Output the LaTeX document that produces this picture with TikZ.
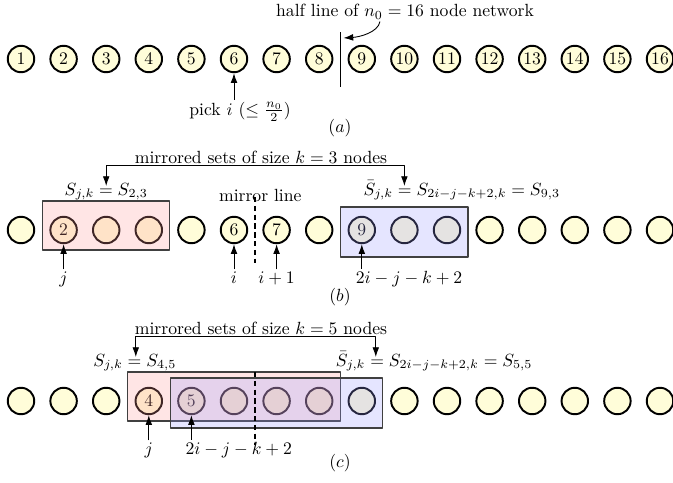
\documentclass[tikz,border=0pt]{standalone}
\usetikzlibrary{arrows.meta,calc}
\tikzset{
  nd/.style={circle,draw,line width=1.1pt,fill=yellow!15,minimum size=15pt,inner sep=0pt},
  setj/.style={draw=black!75,line width=0.6pt,fill=red!40,fill opacity=0.25},
  setm/.style={draw=black!75,line width=0.6pt,fill=blue!40,fill opacity=0.25},
  lbl/.style={inner sep=1pt},
  mline/.style={line width=1.1pt,dash pattern=on 3pt off 2pt}
}
\begin{document}
\begin{tikzpicture}[x=0.567pt,y=-0.567pt,line join=round,>={Latex[length=5.5pt,width=3.8pt]}]
\useasboundingbox (0,0) rectangle (673,483);
% (a) the whole network
\foreach \i in {1,...,16}
  \node[nd] (a\i) at ({21+42.6*(\i-1)},59) {\i};
\coordinate (hl) at ($(a8)!0.5!(a9)$);
\draw[line width=1.1pt] ($(hl)+(0,-27)$) -- ($(hl)+(0,28)$);
\node[lbl,anchor=base] (hlt) at (405,16.5) {half line of $n_0=16$ node network};
\coordinate (hls) at ($(hlt.base)+(-25,5)$);
\coordinate (hlp) at ($(hl)+(3,-21)$);
\draw[->,line width=0.5pt] (hls) .. controls +(-2,11) and +(16,-1) .. (hlp);
\node[lbl,anchor=base] (pk) at (240,115) {pick $i$ ($\leq \frac{n_0}{2}$)};
\draw[->,line width=0.5pt] (pk.north -| a6.south) -- (a6.south);
\node (capa) at (340,128) {$(a)$};
% (b) k=3
\foreach \i/\t in {1/{},2/2,3/{},4/{},5/{},6/6,7/7,8/{},9/9,10/{},11/{},12/{},13/{},14/{},15/{},16/{}}
  \node[nd] (b\i) at ({21+42.6*(\i-1)},230) {\t};
\draw[setj] ($(b2)+(-21,-29)$) rectangle ($(b4)+(21,20)$);
\draw[setm] ($(b9)+(-21,-23)$) rectangle ($(b11)+(21,27)$);
\coordinate (mb) at ($(b6)!0.5!(b7)$);
\draw[mline] ($(mb)+(0,-33)$) -- ($(mb)+(0,33)$);
\node[lbl,anchor=base] (mlt) at ($(mb)+(5,-29)$) {mirror line};
\node[lbl,anchor=base] (lj) at ($(b2)+(0,53)$) {$j$};
\node[lbl,anchor=base] (li) at ($(b6)+(0,53)$) {$i$};
\node[lbl,anchor=base] (li1) at ($(b7)+(0,53)$) {$i+1$};
\node[lbl,anchor=base west] (lm) at ($(b9)+(-8,53)$) {$2i-j-k+2$};
\foreach \l/\n in {lj/b2,li/b6,li1/b7}
  \draw[->,line width=0.5pt] (\l.north) -- (\n.south);
\draw[->,line width=0.5pt] (lm.north -| b9.south) -- (b9.south);
\node[lbl,anchor=base] (sj) at ($(b3)+(0,-35)$) {$S_{j,k} = S_{2,3}$};
\coordinate (sjt) at ($(b3)+(0,-44)$);
\node[lbl,anchor=base west] (sm) at ($(b10)+(-43,-35)$) {$\bar{S}_{j,k} = S_{2i-j-k+2,k} = S_{9,3}$};
\coordinate (smt) at ($(b10)+(0,-44)$);
\node[lbl,anchor=base] (mst) at (261,163) {mirrored sets of size $k=3$ nodes};
\draw[<->,line width=0.5pt] (sjt) |- (mst.south) -| (smt);
\node (capb) at (340,297) {$(b)$};
% (c) k=5
\foreach \i/\t in {1/{},2/{},3/{},4/4,5/5,6/{},7/{},8/{},9/{},10/{},11/{},12/{},13/{},14/{},15/{},16/{}}
  \node[nd] (c\i) at ({21+42.6*(\i-1)},401) {\t};
\draw[setj] ($(c4)+(-21,-29)$) rectangle ($(c8)+(21,20)$);
\draw[setm] ($(c5)+(-21,-23)$) rectangle ($(c9)+(21,27)$);
\coordinate (mc) at ($(c6)!0.5!(c7)$);
\draw[mline] ($(mc)+(0,-29)$) -- ($(mc)+(0,44)$);
\node[lbl,anchor=base] (lj2) at ($(c4)+(0,53)$) {$j$};
\node[lbl,anchor=base west] (lm2) at ($(c5)+(-8,53)$) {$2i-j-k+2$};
\draw[->,line width=0.5pt] (lj2.north) -- (c4.south);
\draw[->,line width=0.5pt] (lm2.north -| c5.south) -- (c5.south);
\node[lbl,anchor=base] (sj2) at ($(c4)+(-14,-35)$) {$S_{j,k} = S_{4,5}$};
\coordinate (sjt2) at ($(c4)+(-13,-44)$);
\node[lbl,anchor=base west] (sm2) at ($(c9)+(-28,-35)$) {$\bar{S}_{j,k} = S_{2i-j-k+2,k} = S_{5,5}$};
\coordinate (smt2) at ($(c9)+(14,-44)$);
\node[lbl,anchor=base] (mst2) at (261,334) {mirrored sets of size $k=5$ nodes};
\draw[<->,line width=0.5pt] (sjt2) |- (mst2.south) -| (smt2);
\node (capc) at (340,463) {$(c)$};
\end{tikzpicture}
\end{document}
